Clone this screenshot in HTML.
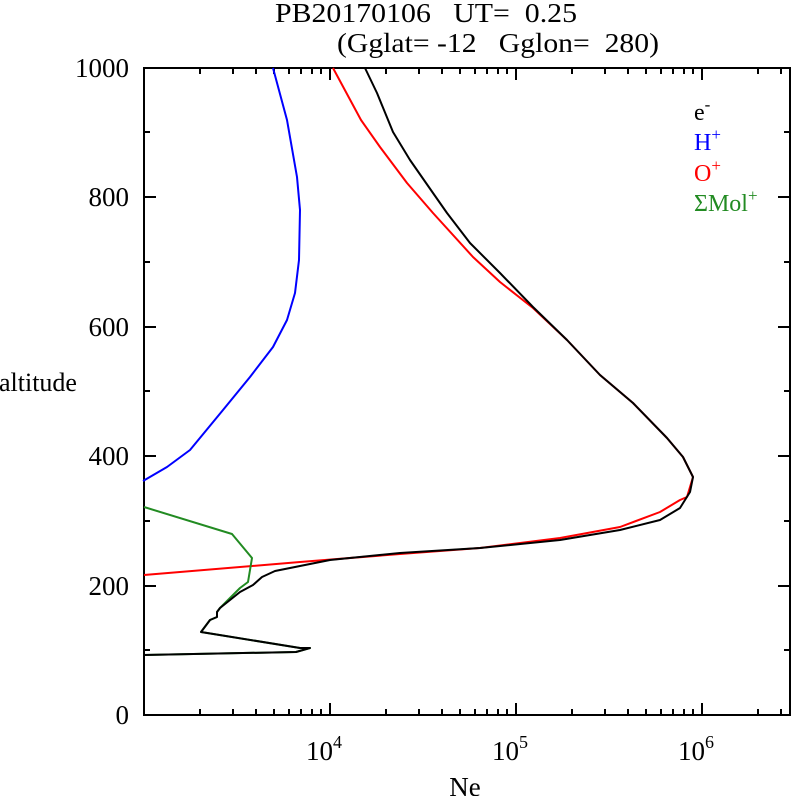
<!DOCTYPE html>
<html><head><meta charset="utf-8"><style>
body{margin:0;background:#fff}
svg text{font-family:"Liberation Serif",serif}
</style></head><body>
<svg width="792" height="796" viewBox="0 0 792 796" xmlns="http://www.w3.org/2000/svg">
<rect width="792" height="796" fill="#fff"/>
<text x="426" y="22" font-size="27" text-anchor="middle" xml:space="preserve" textLength="302" lengthAdjust="spacingAndGlyphs">PB20170106   UT=  0.25</text>
<text x="498" y="52" font-size="27" text-anchor="middle" xml:space="preserve" textLength="322" lengthAdjust="spacingAndGlyphs">(Gglat= -12   Gglon=  280)</text>
<g stroke="#000" stroke-width="2" fill="none">
<rect x="144" y="68" width="646" height="647"/>
<path d="M144 586h12M144 456h12M144 327h12M144 197h12M144 650h6M144 521h6M144 391h6M144 262h6M144 132h6
M790 586h-12M790 456h-12M790 327h-12M790 197h-12M790 650h-6M790 521h-6M790 391h-6M790 262h-6M790 132h-6"/>
<path d="M330 715v-12M516 715v-12M702 715v-12M330 68v12M516 68v12M702 68v12"/>
<path d="M200 715v-6M233 715v-6M256 715v-6M274 715v-6M289 715v-6M301 715v-6M312 715v-6M321 715v-6
M386 715v-6M419 715v-6M442 715v-6M460 715v-6M475 715v-6M487 715v-6M498 715v-6M507 715v-6
M572 715v-6M605 715v-6M628 715v-6M646 715v-6M661 715v-6M673 715v-6M684 715v-6M693 715v-6M758 715v-6M781 715v-6
M200 68v6M233 68v6M256 68v6M274 68v6M289 68v6M301 68v6M312 68v6M321 68v6
M386 68v6M419 68v6M442 68v6M460 68v6M475 68v6M487 68v6M498 68v6M507 68v6
M572 68v6M605 68v6M628 68v6M646 68v6M661 68v6M673 68v6M684 68v6M693 68v6M758 68v6M781 68v6"/>
</g>
<g font-size="27" text-anchor="end">
<text x="129" y="724">0</text><text x="129" y="595">200</text><text x="129" y="465">400</text>
<text x="129" y="336">600</text><text x="129" y="206">800</text><text x="129" y="77">1000</text>
</g>
<text x="-1" y="391" font-size="26">altitude</text>
<g font-size="27" text-anchor="middle">
<text x="324" y="760">10<tspan font-size="18" dy="-12">4</tspan></text>
<text x="510" y="760">10<tspan font-size="18" dy="-12">5</tspan></text>
<text x="696" y="760">10<tspan font-size="18" dy="-12">6</tspan></text>
<text x="465" y="796">Ne</text>
</g>
<g font-size="24">
<text x="694" y="120">e<tspan font-size="17" dy="-10">-</tspan></text>
<text x="694" y="150" fill="#0000ff">H<tspan font-size="17" dy="-10">+</tspan></text>
<text x="694" y="181" fill="#ff0000">O<tspan font-size="17" dy="-10">+</tspan></text>
<text x="694" y="211" fill="#228b22">ΣMol<tspan font-size="17" dy="-10">+</tspan></text>
</g>
<g fill="none" stroke-width="2" stroke-linejoin="round">
<polyline stroke="#0000ff" points="143,481 167,467 190,450 223,410 250,377 273,347 287,320 295,293 299,260 300,210 297,177 287,120 273,68"/>
<polyline stroke="#ff0000" points="144,575 300,562 400,554 480,548 560,538 620,527 660,512 680,500 687,497 693,477 683,457 667,438 633,403 600,375 567,340 533,308 500,282 473,257 433,213 407,183 380,147 361,120 333,68"/>
<polyline stroke="#228b22" points="144,507 232,534 252,558 248,582 240,588 230,598 220,608 217,612 217,617 210,620 201,632 300,648 310,648 296,652 144,655"/>
<polyline stroke="#000" points="365,68 377,93 393,132 410,160 433,193 447,213 470,243 500,273 533,307 567,340 600,375 633,403 667,438 683,457 693,477 690,492 680,508 660,520 620,530 560,540 480,548 400,553 330,560 300,566 275,571 262,577 253,585 240,592 230,600 220,608 217,612 217,617 210,620 201,632 300,648 310,648 296,652 144,655"/>
</g>
</svg>
</body></html>
